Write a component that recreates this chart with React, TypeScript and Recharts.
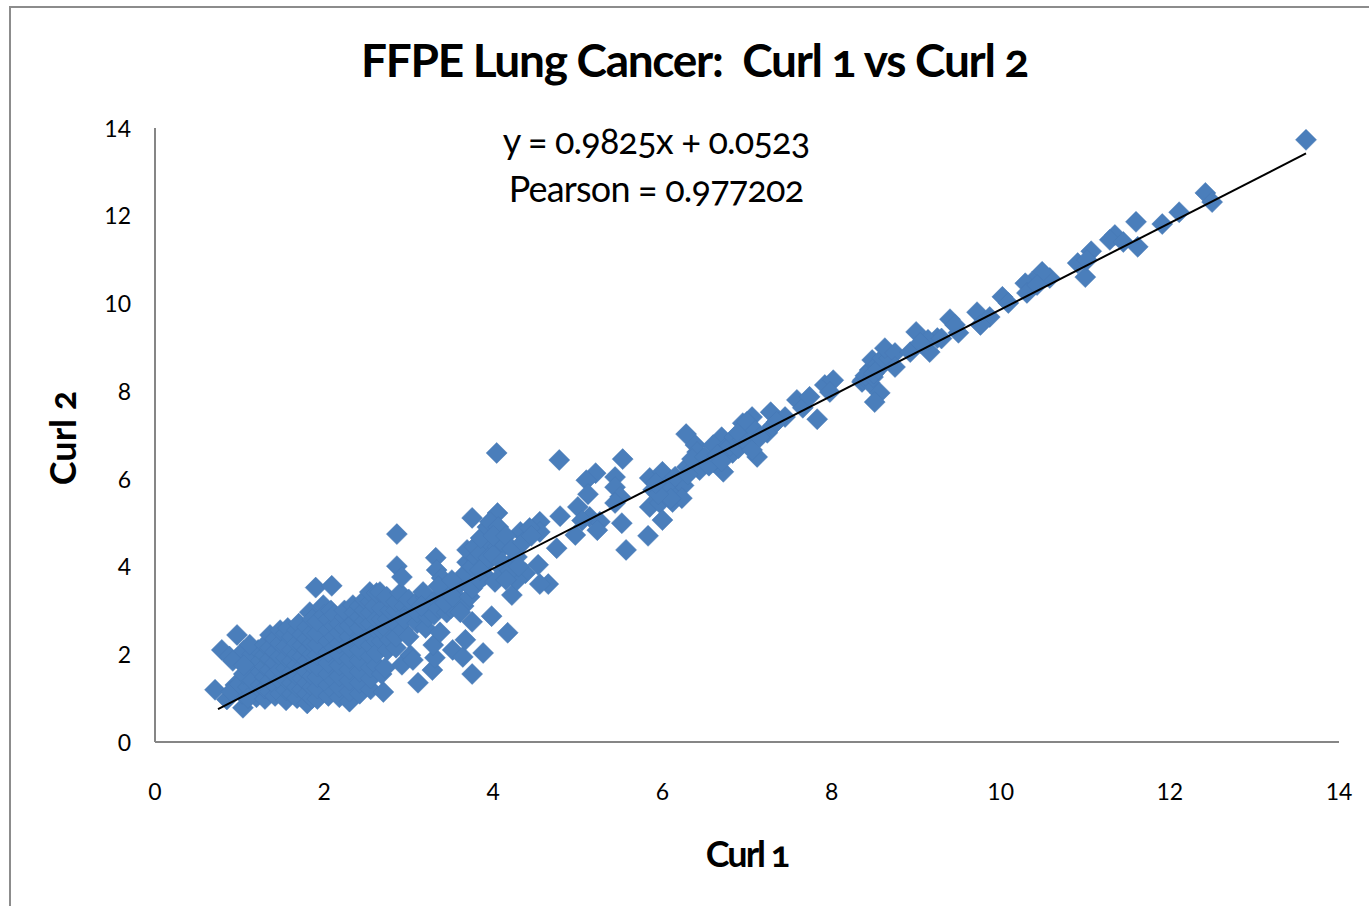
import { ScatterChart, Scatter, XAxis, YAxis, Label } from 'recharts';

const xTicks = [0, 2, 4, 6, 8, 10, 12, 14];
const yTicks = [0, 2, 4, 6, 8, 10, 12, 14];

// [curl 1, curl 2]
const denseCluster = [
  [0.71, 1.19], [0.79, 2.1], [0.85, 0.97], [0.88, 1.95], [0.97, 2.44], [0.95, 1.3], [1.04, 0.78], [1.0, 1.9],
  [1.05, 2.08], [1.03, 1.1], [1.1, 1.5], [1.12, 1.75], [1.15, 2.0], [1.18, 1.25], [1.2, 1.02], [1.22, 2.1],
  [0.9, 1.15], [1.0, 1.32], [1.1, 1.25], [1.1, 1.0], [1.2, 1.5], [1.05, 1.55], [0.92, 1.85], [1.12, 2.22],
  [1.05, 1.75], [1.15, 1.4], [1.25, 1.3], [1.25, 1.6], [1.25, 1.85],
  [1.3, 0.98], [1.3, 1.22], [1.3, 1.48], [1.3, 1.72], [1.3, 1.98], [1.3, 2.22], [1.36, 2.44],
  [1.36, 1.15], [1.36, 1.4], [1.36, 1.65], [1.36, 1.9], [1.36, 2.15],
  [1.42, 1.05], [1.42, 1.3], [1.42, 1.55], [1.42, 1.8], [1.42, 2.05], [1.42, 2.35],
  [1.48, 1.1], [1.48, 1.4], [1.48, 1.65], [1.48, 1.95], [1.48, 2.25], [1.48, 2.55],
  [1.55, 0.95], [1.55, 1.18], [1.55, 1.42], [1.55, 1.68], [1.55, 1.92], [1.55, 2.18], [1.55, 2.48], [1.57, 2.6],
  [1.62, 1.1], [1.62, 1.35], [1.62, 1.6], [1.62, 1.85], [1.62, 2.1], [1.62, 2.4],
  [1.68, 1.0], [1.68, 1.25], [1.68, 1.5], [1.68, 1.75], [1.68, 2.0], [1.68, 2.25], [1.68, 2.55], [1.7, 2.7],
  [1.74, 1.2], [1.74, 1.45], [1.74, 1.7], [1.74, 1.95], [1.74, 2.2], [1.74, 2.45],
  [1.8, 0.88], [1.8, 1.1], [1.8, 1.35], [1.8, 1.6], [1.8, 1.85], [1.8, 2.1], [1.8, 2.35], [1.8, 2.62], [1.83, 2.96],
  [1.86, 1.0], [1.86, 1.25], [1.86, 1.5], [1.86, 1.75], [1.86, 2.0], [1.86, 2.25], [1.86, 2.5], [1.86, 2.8],
  [1.92, 0.98], [1.92, 1.22], [1.92, 1.48], [1.92, 1.72], [1.92, 1.98], [1.92, 2.22], [1.92, 2.48], [1.92, 2.75], [1.99, 3.12],
  [1.9, 3.52], [2.09, 3.56], [2.0, 2.9],
  [2.05, 1.05], [2.05, 1.3], [2.05, 1.55], [2.05, 1.8], [2.05, 2.05], [2.05, 2.3], [2.05, 2.55], [2.05, 2.8], [2.08, 3.0],
  [2.12, 1.15], [2.12, 1.4], [2.12, 2.15], [2.12, 2.4], [2.12, 2.65], [2.12, 2.9],
  [2.18, 1.02], [2.18, 1.25], [2.18, 1.5], [2.18, 1.75], [2.18, 2.0], [2.18, 2.25], [2.18, 2.5], [2.18, 2.7],
  [2.24, 2.6], [2.24, 2.85], [2.24, 3.0],
  [2.3, 0.92], [2.3, 1.15], [2.3, 1.4], [2.3, 1.65], [2.3, 1.9], [2.3, 2.15], [2.3, 2.4], [2.3, 2.65], [2.34, 3.12],
  [2.36, 2.75], [2.36, 2.95],
  [2.42, 1.1], [2.42, 1.35], [2.42, 1.6], [2.42, 1.85], [2.42, 2.1], [2.42, 2.35], [2.42, 2.6], [2.42, 2.85], [2.42, 3.1],
  [2.48, 2.75], [2.48, 3.0], [2.48, 3.25],
  [2.55, 1.2], [2.55, 1.45], [2.55, 1.7], [2.55, 1.95], [2.55, 2.2], [2.55, 2.45], [2.55, 2.7], [2.55, 2.95], [2.55, 3.2], [2.54, 3.42],
  [2.6, 3.1], [2.62, 1.75], [2.62, 2.3], [2.62, 2.55], [2.62, 2.8],
  [2.7, 1.14], [2.68, 1.55], [2.62, 2.03], [2.68, 2.3], [2.68, 2.55], [2.68, 2.8], [2.68, 3.05], [2.62, 3.4], [2.66, 3.42],
  [2.72, 1.69], [2.75, 2.1], [2.75, 2.55], [2.75, 2.8], [2.78, 2.33], [2.78, 3.0], [2.74, 3.31],
  [2.85, 2.15], [2.85, 2.4], [2.85, 2.7], [2.85, 3.0], [2.85, 3.2],
  [2.9, 3.4], [2.86, 4.74], [2.86, 4.01], [2.92, 3.76], [2.95, 3.1],
  [2.92, 1.76], [2.93, 2.55], [3.02, 1.98], [3.05, 1.87], [3.02, 3.0], [2.95, 2.8], [3.1, 2.71], [3.11, 1.35],
  [3.0, 2.4], [3.0, 3.25], [3.1, 2.95], [3.1, 3.2], [3.2, 2.6], [3.2, 3.3],
  [3.17, 3.42], [3.23, 2.85], [3.28, 3.17], [3.15, 3.1], [3.28, 1.64], [3.31, 1.92], [3.29, 2.21], [3.37, 2.5],
  [3.3, 2.9], [3.35, 3.05], [3.4, 3.4], [3.45, 2.95], [3.5, 3.05], [3.55, 3.5], [3.6, 3.25], [3.6, 3.65], [3.65, 3.1],
  [3.32, 4.2], [3.33, 3.92], [3.39, 3.74], [3.43, 3.17], [3.35, 3.55], [3.52, 3.31], [3.51, 3.69], [3.52, 2.1],
  [3.61, 2.96], [3.64, 1.94], [3.67, 2.33], [3.72, 3.31], [3.75, 2.74], [3.75, 1.55], [3.67, 3.85], [3.69, 4.1], [3.69, 4.38],
  [3.75, 3.5], [3.75, 4.0], [3.8, 4.2], [3.78, 4.45], [3.85, 4.3], [3.9, 3.8], [3.9, 4.05], [3.95, 4.55],
  [3.75, 5.11], [3.84, 3.69], [3.84, 3.92], [3.85, 4.65], [3.88, 2.03], [3.93, 4.9], [3.94, 4.2], [3.98, 2.87], [4.17, 2.49],
];

const middleCluster = [
  [4.04, 6.59], [4.78, 6.43], [5.53, 6.45], [5.21, 6.13], [5.1, 5.97], [5.44, 6.04], [5.44, 5.81], [5.12, 5.65],
  [5.5, 5.59], [5.44, 5.45], [4.79, 5.15], [5.0, 5.36], [5.14, 5.13], [4.97, 4.72], [5.26, 5.02], [5.23, 4.83],
  [5.52, 4.99], [5.83, 4.7], [5.57, 4.38], [4.75, 4.42], [4.55, 5.02], [4.55, 4.79], [4.32, 4.79], [4.53, 4.04],
  [4.65, 3.6], [4.55, 3.6], [4.38, 3.85], [4.22, 3.35], [4.05, 5.22], [3.96, 5.02], [4.06, 4.9], [4.05, 4.45],
  [4.14, 4.49], [4.0, 4.26], [4.43, 4.88], [4.28, 3.69], [4.02, 3.65], [4.12, 3.92], [4.28, 4.22],
  [4.0, 4.7], [4.1, 4.1], [4.15, 4.7], [4.2, 3.9], [4.22, 4.4], [4.3, 4.0], [4.35, 4.55], [4.45, 4.7], [4.15, 3.7], [5.05, 5.05],
  [6.28, 7.02], [6.39, 6.77], [6.41, 6.61], [5.85, 6.02], [6.0, 6.16], [6.21, 5.9], [6.29, 6.27], [5.89, 5.75],
  [6.09, 5.68], [6.25, 5.85], [5.85, 5.36], [5.97, 5.45], [6.0, 5.06], [6.12, 5.47], [6.23, 5.56], [6.44, 6.2],
  [6.05, 5.85], [6.1, 5.55], [5.95, 5.65], [5.92, 5.9], [6.15, 6.05], [6.3, 6.1], [6.35, 6.45],
  [6.72, 6.16], [6.6, 6.38], [6.7, 6.95], [6.6, 6.77], [6.83, 6.59], [6.76, 6.73], [6.95, 7.27], [7.06, 7.41],
  [6.5, 6.5], [6.55, 6.3], [6.65, 6.55], [6.7, 6.4], [6.8, 6.75], [6.85, 6.95], [6.9, 6.7], [6.95, 6.9], [6.9, 7.05],
  [7.0, 6.82], [7.12, 6.5], [7.06, 6.66], [7.24, 7.05], [7.28, 7.52], [7.45, 7.41], [7.59, 7.8], [7.66, 7.62],
  [7.0, 7.3], [7.1, 7.1], [7.15, 6.95], [7.3, 7.2], [7.35, 7.3],
  [7.74, 7.87], [7.83, 7.36], [7.92, 8.14], [8.02, 8.25], [7.98, 7.98],
];

const upperCluster = [
  [8.36, 8.21], [8.45, 8.48], [8.37, 8.25], [8.45, 8.19], [8.57, 7.96], [8.51, 7.75], [8.48, 8.71], [8.55, 8.62],
  [8.4, 8.35], [8.49, 8.32], [8.5, 8.4], [8.55, 8.5], [8.6, 8.75], [8.68, 8.75],
  [8.63, 8.98], [8.75, 8.87], [8.75, 8.55], [8.93, 8.89], [9.0, 9.35], [9.16, 8.89], [9.25, 9.21], [9.14, 9.17],
  [9.05, 9.1], [9.3, 9.2],
  [9.4, 9.64], [9.5, 9.33], [9.46, 9.51], [9.72, 9.8], [9.87, 9.69], [9.76, 9.51], [10.02, 10.15], [10.09, 10.01],
  [10.58, 10.58], [10.49, 10.72], [10.37, 10.49], [10.29, 10.46], [10.31, 10.24], [10.43, 10.42],
  [11.07, 11.19], [11.0, 10.6], [10.91, 10.92], [11.02, 10.99], [11.35, 11.56], [11.29, 11.45], [11.45, 11.4],
  [11.6, 11.86], [11.62, 11.29], [11.91, 11.81], [12.11, 12.08], [12.42, 12.52], [12.5, 12.31], [13.61, 13.73],
];

const trendLine = [
  [0.745, 0.75],
  [13.61, 13.42],
];

const toPoints = (pairs: number[][]) => pairs.map(([x, y]) => ({ x, y }));

const Diamond = ({ cx, cy }: any) => (
  <path d={`M${cx} ${cy - 10.5}L${cx + 10.5} ${cy}L${cx} ${cy + 10.5}L${cx - 10.5} ${cy}Z`} fill="#4a7ebb" stroke="#4779b5" strokeWidth={0.5} />
);

const NoMark = () => null;

const sans = 'Lato, "Open Sans", sans-serif';
const axisLine = { stroke: '#868686', strokeWidth: 2 };

export default function App() {
  return (
    <div style={{ position: 'absolute', left: 0, top: 0, width: 1369, height: 906, overflow: 'hidden', background: '#fff', fontFamily: sans }}>
      <div style={{ position: 'absolute', left: 9, top: 6, width: 1500, height: 1000, border: '2px solid #8c8c8c' }} />
      <ScatterChart
        width={1369}
        height={906}
        margin={{ top: 128, right: 30, bottom: 0, left: 0 }}
        style={{ position: 'absolute', left: 0, top: 0 }}
      >
        <XAxis
          type="number"
          dataKey="x"
          domain={[0, 14]}
          ticks={xTicks}
          height={164}
          axisLine={axisLine}
          tickLine={false}
          tickMargin={36}
          tick={{ fontSize: 23, fill: '#000', fontFamily: sans }}
        >
          <Label value="Curl 1" position="insideBottom" offset={39} style={{ fontSize: 36, fontWeight: 700, fill: '#000', fontFamily: sans, fontFeatureSettings: "'onum'", letterSpacing: -2 }} />
        </XAxis>
        <YAxis
          type="number"
          dataKey="y"
          domain={[0, 14]}
          ticks={yTicks}
          width={155}
          axisLine={axisLine}
          tickLine={false}
          tickMargin={18}
          tick={{ fontSize: 23, fill: '#000', fontFamily: sans, dy: 0.5 }}
        >
          <Label value="Curl 2" angle={-90} position="insideLeft" offset={63} dy={3} style={{ fontSize: 36, fontWeight: 700, fill: '#000', fontFamily: sans, fontFeatureSettings: "'onum'", textAnchor: 'middle' }} />
        </YAxis>
        <Scatter data={toPoints(denseCluster)} shape={Diamond} isAnimationActive={false} />
        <Scatter data={toPoints(middleCluster)} shape={Diamond} isAnimationActive={false} />
        <Scatter data={toPoints(upperCluster)} shape={Diamond} isAnimationActive={false} />
        <Scatter data={toPoints(trendLine)} shape={NoMark} line={{ stroke: '#000', strokeWidth: 2 }} isAnimationActive={false} />
      </ScatterChart>
      <div style={{ position: 'absolute', left: 0, width: 1389, top: 32, textAlign: 'center', fontSize: 46, fontWeight: 700, whiteSpace: 'pre', letterSpacing: -1.3, fontFeatureSettings: "'onum'" }}>
        {'FFPE Lung Cancer:  Curl 1 vs Curl 2'}
      </div>
      <div style={{ position: 'absolute', left: 0, width: 1312, top: 116, textAlign: 'center', fontSize: 36, lineHeight: '48px', letterSpacing: -0.8, fontFeatureSettings: "'onum'" }}>
        y = 0.9825x + 0.0523
        <br />
        Pearson = 0.977202
      </div>
    </div>
  );
}
